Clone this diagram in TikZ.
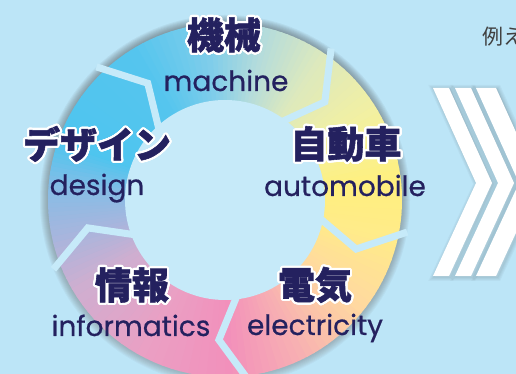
\documentclass[tikz,border=0pt]{standalone}
\usepackage{fontspec}
\setmainfont{Poppins}[FakeBold=0.5]
\newfontfamily\jpfont{Noto Sans CJK JP}[BoldFeatures={FakeBold=1.5}]
\usepackage[copies]{contour}
\contourlength{2.2pt}
\contournumber{24}
\usetikzlibrary{positioning,calc}
\definecolor{bgblue}{HTML}{BCE5F7}
\definecolor{hole}{HTML}{C6EAF9}
\definecolor{navy}{HTML}{24215F}
\definecolor{shade}{HTML}{3F9FDD}
% ring colours, anticlockwise
\definecolor{ra}{HTML}{4EC5EF}
\definecolor{rb}{HTML}{86BDE6}
\definecolor{rc}{HTML}{A4B6DE}
\definecolor{rd}{HTML}{CFAED0}
\definecolor{re}{HTML}{EAA0C4}
\definecolor{rf}{HTML}{F290BB}
\definecolor{rg}{HTML}{F7B0B2}
\definecolor{rh}{HTML}{FFD8A0}
\definecolor{ri}{HTML}{FFEB8A}
\definecolor{rj}{HTML}{FFF07E}
\definecolor{rk}{HTML}{F2F0A2}
\definecolor{rl}{HTML}{DDE9BD}
\definecolor{rm}{HTML}{B5DCDB}
\definecolor{rn}{HTML}{7FCDEA}
\definecolor{ro}{HTML}{55C5EE}
\tikzset{jp/.style={
         font=\jpfont\bfseries\fontsize{37}{37}\selectfont,text=navy,inner sep=0pt}}
\tikzset{en/.style={
         font=\fontsize{28}{28}\selectfont,text=navy,inner sep=0pt,anchor=base}}
\tikzset{gap/.style={
         draw=hole,line width=7pt,miter limit=20}}

\begin{document}
\begin{tikzpicture}[x=1pt,y=1pt]
\useasboundingbox (0,0) rectangle (516,374);
\clip (0,0) rectangle (516,374);
\fill [bgblue] (0,0) rectangle (516,374);
\coordinate (ctr) at (225,174);

% 影
\foreach \i in {1,...,8} {\fill [shade,opacity=0.03] (ctr) circle (177+\i);}

% 輪
\foreach \a/\b/\ca/\cb in {-200/-185/ra/rb,-185/-170/rb/rc,-170/-150/rc/rd,-150/-120/rd/re,
  -120/-90/re/rf,-90/-65/rf/rg,-65/-40/rg/rh,-40/-15/rh/ri,-15/5/ri/rj,5/30/rj/rk,
  30/55/rk/rl,55/75/rl/rm,75/95/rm/rn,95/120/rn/ro,120/160/ro/ra} {
  \foreach \t in {0,1,...,9} {
    \pgfmathsetmacro\s{\a+(\b-\a)*\t/10}
    \pgfmathsetmacro\e{\a+(\b-\a)*(\t+1)/10+0.5}
    \pgfmathsetmacro\p{100-10*\t}
    \fill [\ca!\p!\cb] (ctr) -- ++(\s:177) arc [start angle=\s,end angle=\e,radius=177] -- cycle;
  }
}
\fill [hole] (ctr) circle (100);

% 切れ目
\foreach \g in {134,55,-10,-82,-158} {
  \draw [gap] ($(ctr)+(\g:185)$) -- ($(ctr)+(\g-10.5:140)$) -- ($(ctr)+(\g:94)$);
}

% 文字
\node [jp] (kikai) at (224,338) {\contour{white}{機械}};
\node [en] (machine) at (226,283) {machine};
\node [jp] (jidousha) at (346,229) {\contour{white}{自動車}};
\node [en] (automobile) at (345,178) {automobile};
\node [jp] (dezain) at (97,229) {\contour{white}{デザイン}};
\node [en] (design) at (97,179) {design};
\node [jp] (jouhou) at (132,88) {\contour{white}{情報}};
\node [en] (informatics) at (131,38) {informatics};
\node [jp] (denki) at (315,88) {\contour{white}{電気}};
\node [en] (electricity) at (315,39) {electricity};
\node [font=\jpfont\fontsize{21}{21}\selectfont,text=black!75,anchor=west,inner sep=0pt] (rei) at (482,337) {例え};

% 矢印
\foreach \x/\w in {433/16,455/16,476/20} {
  \foreach \i in {1,...,4} {
    \draw [shade,opacity=0.03,line width=2*\i pt,line join=miter,shift={(1.5,-1)}]
      (\x,286) -- (\x+\w,286) -- (\x+\w+43,191) -- (\x+\w,98) -- (\x,98) -- (\x+43,191) -- cycle;
  }
  \fill [white] (\x,286) -- (\x+\w,286) -- (\x+\w+43,191) -- (\x+\w,98) -- (\x,98) -- (\x+43,191) -- cycle;
}
\end{tikzpicture}
\end{document}
